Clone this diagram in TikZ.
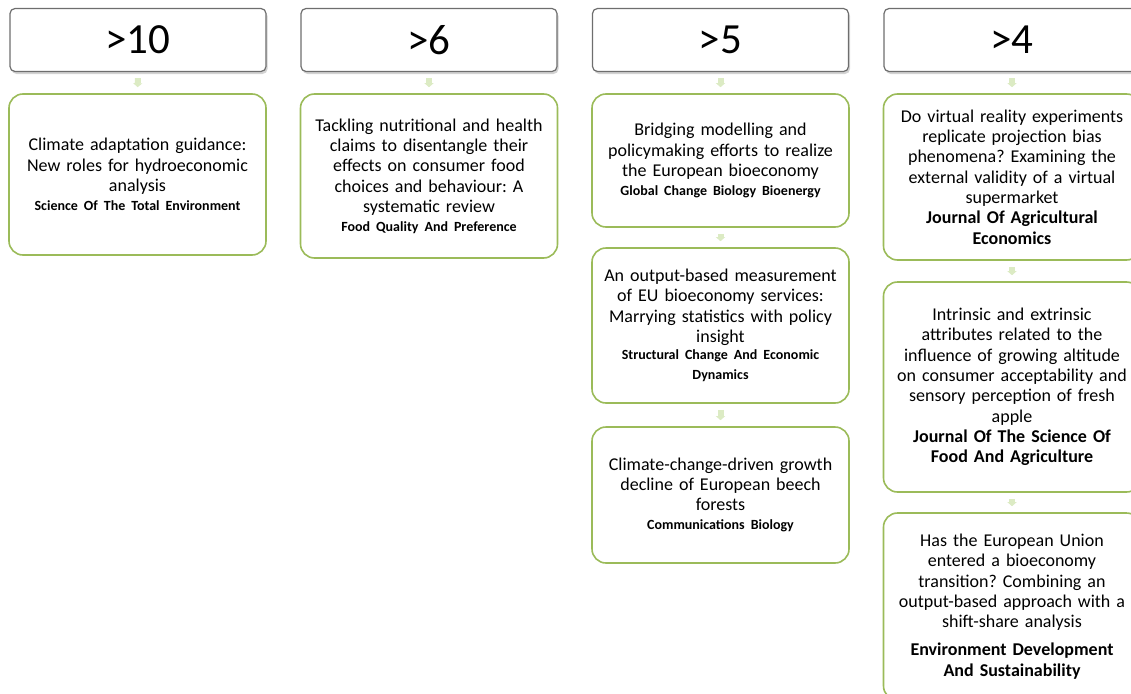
\documentclass[tikz,border=0pt]{standalone}
\usepackage{fontspec}
\setmainfont{Carlito}
\usetikzlibrary{shadows,arrows.meta}
\definecolor{hdrborder}{HTML}{6E6E6E}
\definecolor{boxgreen}{HTML}{9BBB59}
\definecolor{arrgreen}{HTML}{DCEBC4}
\frenchspacing
\begin{document}
\begin{tikzpicture}[x=1pt,y=-1pt,
  hdr/.style={draw=hdrborder,line width=1.2pt,fill=white,rounded corners=5pt,
    minimum width=256pt,minimum height=63pt,inner sep=0pt,
    font=\fontsize{43}{48}\selectfont,
    drop shadow={shadow xshift=1.5pt,shadow yshift=-2.5pt,opacity=0.35,fill=gray}},
  pbox/.style={draw=boxgreen,line width=1.6pt,fill=white,rounded corners=14pt,
    minimum width=257pt,inner sep=0pt,text width=257pt,align=center,
    font=\fontsize{18}{20.3}\selectfont},
  conn/.style={draw=arrgreen,line width=6pt,shorten <=6pt,shorten >=6pt,
    -{Triangle[width=9pt,length=4pt]}},
]
\useasboundingbox (0,0) rectangle (1131,693);
\newcommand{\jr}[1]{\\[-1.5pt]{\bfseries\fontsize{14}{18.3}\selectfont #1}}
\newcommand{\jb}[1]{\\{\bfseries #1}}

% headers
\node[hdr] (h1) at (138,40) {>10};
\node[hdr] (h2) at (429,40) {>6};
\node[hdr] (h3) at (720.5,40) {>5};
\node[hdr] (h4) at (1012,40) {>4};

% column 1
\node[pbox,minimum height=161pt] (a1) at (137.5,174.5)
 {Climate adaptation guidance:\\New roles for hydroeconomic\\analysis\jr{Science Of The Total Environment}};

% column 2
\node[pbox,minimum height=164pt] (b1) at (429,176)
 {Tackling nutritional and health\\claims to disentangle their\\effects on consumer food\\choices and behaviour: A\\systematic review\jr{Food Quality And Preference}};

% column 3
\node[pbox,minimum height=133pt] (c1) at (720.5,160.5)
 {Bridging modelling and\\policymaking efforts to realize\\the European bioeconomy\jr{Global Change Biology Bioenergy}};
\node[pbox,minimum height=155pt] (c2) at (720.5,325.5)
 {An output-based measurement\\of EU bioeconomy services:\\Marrying statistics with policy\\insight\jr{Structural Change And Economic\\Dynamics}};
\node[pbox,minimum height=136pt] (c3) at (720.5,495)
 {Climate-change-driven growth\\decline of European beech\\forests\jr{Communications Biology}};

% column 4
\node[pbox,minimum height=166pt] (d1) at (1012,177)
 {Do virtual reality experiments\\replicate projection bias\\phenomena? Examining the\\external validity of a virtual\\supermarket\jb{Journal Of Agricultural\\Economics}};
\node[pbox,minimum height=210pt] (d2) at (1012,387)
 {Intrinsic and extrinsic\\attributes related to the\\influence of growing altitude\\on consumer acceptability and\\sensory perception of fresh\\apple\jb{Journal Of The Science Of\\Food And Agriculture}};
\node[pbox,minimum height=187pt] (d3) at (1012,606.5)
 {Has the European Union\\entered a bioeconomy\\transition? Combining an\\output-based approach with a\\shift-share analysis\\[8pt]{\bfseries Environment Development\\And Sustainability}};

% connectors
\draw[conn] (h1.south) -- (a1.north);
\draw[conn] (h2.south) -- (b1.north);
\draw[conn] (h3.south) -- (c1.north);
\draw[conn] (c1.south) -- (c2.north);
\draw[conn] (c2.south) -- (c3.north);
\draw[conn] (h4.south) -- (d1.north);
\draw[conn] (d1.south) -- (d2.north);
\draw[conn] (d2.south) -- (d3.north);
\end{tikzpicture}
\end{document}
